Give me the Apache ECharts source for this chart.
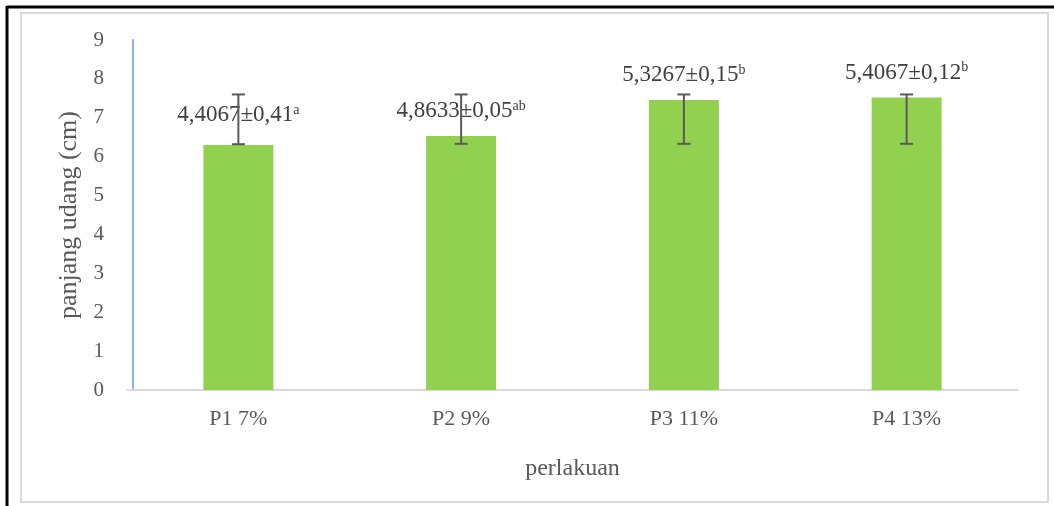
<!DOCTYPE html>
<html>
<head>
<meta charset="utf-8">
<script src="https://cdn.jsdelivr.net/npm/echarts@6/dist/echarts.min.js"></script>
<style>html,body{margin:0;padding:0;background:#fff}#c{width:1054px;height:506px}</style>
</head>
<body>
<div id="c"></div>
<script>
const categories = ['P1 7%', 'P2 9%', 'P3 11%', 'P4 13%'];
const barValues = [6.30, 6.53, 7.46, 7.52];
const errLow = [6.32, 6.33, 6.33, 6.33];
const errHigh = [7.60, 7.60, 7.60, 7.60];
const labelMain = ['4,4067±0,41', '4,8633±0,05', '5,3267±0,15', '5,4067±0,12'];
const labelSup = ['a', 'ab', 'b', 'b'];
const yMin = 0, yMax = 9, yInterval = 1;
const xTitle = 'perlakuan';
const yTitle = 'panjang udang (cm)';

const FONT = "'Liberation Serif', 'Times New Roman', serif";
const chart = echarts.init(document.getElementById('c'), null, {renderer: 'canvas'});

const errData = categories.map((c, i) => [i, errLow[i], errHigh[i]]);

chart.setOption({
  animation: false,
  backgroundColor: '#fff',
  textStyle: {fontFamily: FONT},
  graphic: [
    {type: 'rect', shape: {x: 21, y: 13, width: 1027, height: 489}, style: {fill: 'none', stroke: '#D9D9D9', lineWidth: 2}, silent: true},
    {type: 'line', shape: {x1: 7, y1: 7, x2: 1054, y2: 7}, style: {stroke: '#000', lineWidth: 3}, silent: true},
    {type: 'line', shape: {x1: 7, y1: 6, x2: 7, y2: 506}, style: {stroke: '#000', lineWidth: 3}, silent: true}
  ],
  grid: {left: 127, right: 36, top: 40, bottom: 116, containLabel: false},
  xAxis: {
    type: 'category',
    data: categories,
    name: xTitle,
    nameLocation: 'middle',
    nameGap: 67,
    nameTextStyle: {fontSize: 24, color: '#595959', fontFamily: FONT},
    axisLine: {lineStyle: {color: '#D9D9D9', width: 2}},
    axisTick: {show: false},
    axisLabel: {fontSize: 22, color: '#595959', margin: 18, fontFamily: FONT},
    splitLine: {show: false}
  },
  yAxis: {
    type: 'value',
    min: yMin, max: yMax, interval: yInterval,
    offset: -6,
    name: yTitle,
    nameLocation: 'middle',
    nameGap: 50,
    nameRotate: 90,
    nameTextStyle: {fontSize: 26, color: '#595959', fontFamily: FONT},
    axisLine: {show: true, lineStyle: {color: '#8EB4E3', width: 2}},
    axisTick: {show: false},
    axisLabel: {fontSize: 21, color: '#595959', margin: 29, fontFamily: FONT},
    splitLine: {show: false}
  },
  series: [
    {
      type: 'bar',
      data: barValues.map((v, i) => ({value: v, label: {distance: i === 0 ? 18 : 13}})),
      barWidth: 70,
      itemStyle: {color: '#92D050'},
      label: {
        show: true,
        position: 'top',
        formatter: p => `{v|${labelMain[p.dataIndex]}}{s|${labelSup[p.dataIndex]}}`,
        rich: {
          v: {fontSize: 23, color: '#404040', fontFamily: FONT, lineHeight: 24},
          s: {fontSize: 14, color: '#404040', fontFamily: FONT, lineHeight: 14, verticalAlign: 'top'}
        }
      },
      z: 2
    },
    {
      type: 'custom',
      data: errData,
      z: 10,
      renderItem: function (params, api) {
        const idx = api.value(0);
        const lo = api.coord([idx, api.value(1)]);
        const hi = api.coord([idx, api.value(2)]);
        const hw = 6.5;
        const st = {stroke: '#595959', lineWidth: 2};
        return {
          type: 'group',
          children: [
            {type: 'line', shape: {x1: lo[0], y1: lo[1], x2: hi[0], y2: hi[1]}, style: st},
            {type: 'line', shape: {x1: lo[0] - hw, y1: lo[1], x2: lo[0] + hw, y2: lo[1]}, style: st},
            {type: 'line', shape: {x1: hi[0] - hw, y1: hi[1], x2: hi[0] + hw, y2: hi[1]}, style: st}
          ]
        };
      }
    }
  ]
});
</script>
</body>
</html>
